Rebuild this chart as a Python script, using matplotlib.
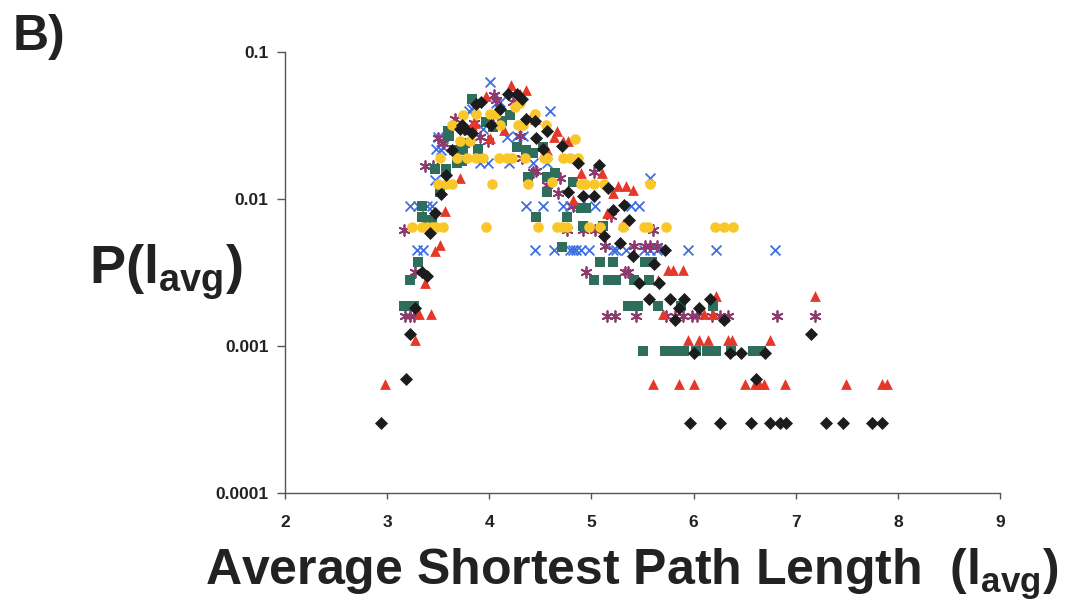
import matplotlib
matplotlib.use("Agg")
import matplotlib.pyplot as plt
from matplotlib.ticker import FixedLocator, FixedFormatter, NullLocator

plt.rcParams['font.family'] = ['Liberation Sans', 'DejaVu Sans']
plt.rcParams['font.weight'] = 'bold'
plt.rcParams['mathtext.fontset'] = 'custom'
plt.rcParams['mathtext.rm'] = 'Liberation Sans:bold'
plt.rcParams['mathtext.it'] = 'Liberation Sans:bold'
plt.rcParams['mathtext.bf'] = 'Liberation Sans:bold'

# --- data (x = l_avg, y = P(l_avg)) ---
black_x = [4.18, 4.27, 4.32, 3.92, 3.87, 4.10, 4.36, 4.45, 3.73, 3.76, 4.02, 4.56, 4.46,
           4.71, 4.53, 4.87, 5.07, 3.58, 3.53, 4.77, 4.92, 5.02, 5.16, 5.32, 5.21, 5.37,
           3.47, 3.42, 5.12, 5.28, 5.41, 5.72, 5.61, 3.34, 3.39, 5.47, 5.66, 5.56, 5.77,
           5.91, 6.16, 3.27, 5.86, 6.05, 5.82, 6.30, 3.22, 7.15, 6.00, 6.36, 6.46, 6.70,
           3.18, 6.61, 2.94, 5.96, 6.26, 6.56, 6.75, 6.85, 6.90, 7.30, 7.46, 7.75, 7.84,
           3.63, 3.83, 3.71]
black_y = [0.052, 0.052, 0.048, 0.046, 0.044, 0.041, 0.035, 0.034, 0.032, 0.030, 0.032, 0.029, 0.026,
           0.023, 0.022, 0.0175, 0.017, 0.0146, 0.0108, 0.0112, 0.0105, 0.0105, 0.0119, 0.0091, 0.0084, 0.0072,
           0.0080, 0.0059, 0.0056, 0.0050, 0.0041, 0.0045, 0.0036, 0.0032, 0.0030, 0.0027, 0.0027, 0.0021, 0.0021,
           0.0021, 0.0021, 0.0018, 0.0018, 0.0018, 0.0015, 0.0015, 0.0012, 0.0012, 0.0009, 0.0009, 0.0009, 0.0009,
           0.0006, 0.0006, 0.0003, 0.0003, 0.0003, 0.0003, 0.0003, 0.0003, 0.0003, 0.0003, 0.0003, 0.0003, 0.0003,
           0.0216, 0.028, 0.030]

red_x = [4.21, 3.97, 4.36, 4.30, 3.83, 4.01, 4.14, 4.45, 4.42, 4.66, 4.72, 4.77, 4.63, 4.56,
         3.71, 3.57, 4.90, 5.10, 5.21, 5.26, 5.34, 5.41, 5.15, 4.82, 5.31, 3.52, 3.47, 5.75,
         5.80, 5.90, 3.37, 5.65, 6.22, 7.19, 3.31, 3.43, 5.70, 6.10, 6.19, 3.27, 5.95, 6.05,
         6.14, 6.34, 6.38, 6.75, 2.98, 5.60, 5.86, 6.00, 6.50, 6.60, 6.64, 6.69, 6.89, 7.49,
         7.84, 7.89, 3.86]
red_y = [0.060, 0.050, 0.055, 0.052, 0.032, 0.026, 0.0295, 0.035, 0.037, 0.029, 0.025, 0.025, 0.0265, 0.0216,
         0.0138, 0.0083, 0.015, 0.015, 0.011, 0.0123, 0.0123, 0.0115, 0.0080, 0.0099, 0.0068, 0.0049, 0.0044, 0.0033,
         0.0033, 0.0033, 0.0027, 0.0028, 0.0022, 0.0022, 0.00165, 0.00165, 0.00165, 0.00165, 0.00165, 0.0011, 0.0011, 0.0011,
         0.0011, 0.0011, 0.0011, 0.0011, 0.00055, 0.00055, 0.00055, 0.00055, 0.00055, 0.00055, 0.00055, 0.00055, 0.00055, 0.00055,
         0.00055, 0.00055, 0.033]

green_x = [3.83, 4.20, 3.97, 4.04, 4.12, 3.61, 3.76, 3.65, 3.89, 3.73, 3.68, 3.58, 3.47, 4.27,
           4.36, 4.43, 4.53, 4.38, 4.56, 4.64, 4.82, 4.46, 4.76, 4.90, 4.95, 3.34, 3.39, 3.44,
           3.52, 3.34, 4.56, 4.82, 4.92, 5.11, 4.71, 3.30, 5.08, 5.21, 5.52, 5.59, 3.22, 5.02,
           5.16, 5.24, 5.42, 5.56, 3.16, 3.21, 3.26, 5.36, 5.46, 5.65, 5.88, 6.19, 5.50, 5.72,
           5.82, 5.91, 6.02, 6.13, 6.22, 6.37, 6.58, 6.66, 3.60, 3.74]
green_y = [0.048, 0.037, 0.0335, 0.031, 0.034, 0.027, 0.024, 0.0216, 0.022, 0.018, 0.0175, 0.016, 0.016, 0.0227,
           0.0216, 0.0206, 0.0227, 0.0142, 0.0142, 0.015, 0.013, 0.0076, 0.0076, 0.0087, 0.0087, 0.0076, 0.0072, 0.0070,
           0.0112, 0.0089, 0.0112, 0.0130, 0.0066, 0.0066, 0.0047, 0.0037, 0.0037, 0.0037, 0.0037, 0.0037, 0.0028, 0.0028,
           0.0028, 0.0028, 0.0028, 0.0028, 0.00186, 0.00186, 0.00186, 0.00186, 0.00186, 0.00186, 0.00186, 0.00186, 0.00093, 0.00093,
           0.00093, 0.00093, 0.00093, 0.00093, 0.00093, 0.00093, 0.00093, 0.00093, 0.029, 0.0216]

blue_x = [4.01, 4.59, 3.83, 3.50, 3.55, 3.48, 3.94, 4.07, 4.10, 4.17, 4.27, 4.33, 3.91, 3.99,
          4.19, 4.43, 4.56, 3.47, 5.57, 3.22, 3.30, 3.39, 3.44, 4.36, 4.53, 4.72, 4.79, 4.89,
          5.03, 5.39, 5.47, 3.29, 3.35, 4.45, 4.63, 4.79, 4.82, 4.85, 4.90, 4.98, 5.21, 5.24,
          5.34, 5.51, 5.57, 5.64, 5.95, 6.22, 6.80, 3.80, 3.53]
blue_y = [0.063, 0.040, 0.041, 0.0265, 0.0227, 0.022, 0.030, 0.045, 0.046, 0.0266, 0.027, 0.027, 0.0175, 0.0175,
          0.0175, 0.0175, 0.0175, 0.0134, 0.0138, 0.0089, 0.0089, 0.0089, 0.0089, 0.0089, 0.0089, 0.0089, 0.0089, 0.0089,
          0.0089, 0.0089, 0.0089, 0.0045, 0.0045, 0.0045, 0.0045, 0.0045, 0.0045, 0.0045, 0.0045, 0.0045, 0.0045, 0.0045,
          0.0045, 0.0045, 0.0045, 0.0045, 0.0045, 0.0045, 0.0045, 0.040, 0.0216]

purple_x = [4.05, 4.07, 4.23, 3.66, 3.50, 3.55, 3.91, 3.99, 4.04, 4.30, 4.32, 3.37, 3.45, 4.46,
            4.43, 4.69, 4.56, 4.67, 5.02, 4.82, 5.19, 3.16, 4.76, 4.92, 5.03, 5.60, 5.13, 5.42,
            5.52, 5.57, 5.64, 3.27, 4.95, 5.33, 5.36, 3.17, 3.22, 3.26, 5.15, 5.23, 5.44, 5.73,
            5.82, 5.90, 5.98, 6.03, 6.18, 6.26, 6.34, 6.82, 7.19, 3.85, 3.75]
purple_y = [0.051, 0.047, 0.046, 0.035, 0.026, 0.024, 0.0265, 0.025, 0.032, 0.027, 0.019, 0.0168, 0.0168, 0.0155,
            0.0153, 0.0138, 0.0124, 0.0109, 0.0153, 0.0089, 0.0077, 0.0062, 0.0062, 0.0062, 0.0062, 0.0062, 0.0048, 0.0048,
            0.0048, 0.0048, 0.0048, 0.0032, 0.0032, 0.0032, 0.0032, 0.0016, 0.0016, 0.0016, 0.0016, 0.0016, 0.0016, 0.0016,
            0.0016, 0.0016, 0.0016, 0.0016, 0.0016, 0.0016, 0.0016, 0.0016, 0.0016, 0.033, 0.030]

yellow_x = [4.30, 4.25, 4.01, 4.07, 3.87, 3.74, 3.63, 3.71, 3.81, 4.28, 4.33, 4.45, 4.55, 4.10,
            4.84, 3.52, 3.68, 3.78, 3.87, 3.94, 4.09, 4.17, 4.22, 4.35, 4.54, 4.56, 4.72, 4.79,
            4.87, 3.50, 3.58, 3.63, 4.03, 4.38, 4.61, 4.90, 4.94, 5.02, 5.12, 5.57, 3.24, 3.34,
            3.39, 3.44, 3.48, 3.55, 3.97, 4.48, 4.66, 4.71, 4.76, 4.98, 5.08, 5.31, 5.51, 5.55,
            5.73, 6.21, 6.30, 6.39]
yellow_y = [0.045, 0.0425, 0.038, 0.038, 0.038, 0.037, 0.032, 0.025, 0.025, 0.032, 0.032, 0.038, 0.032, 0.032,
            0.0255, 0.019, 0.019, 0.019, 0.019, 0.019, 0.019, 0.019, 0.019, 0.019, 0.019, 0.019, 0.019, 0.019,
            0.019, 0.0127, 0.0127, 0.0127, 0.0127, 0.0127, 0.0131, 0.0127, 0.0127, 0.0127, 0.0127, 0.0127, 0.0064, 0.0064,
            0.0064, 0.0064, 0.0064, 0.0064, 0.0064, 0.0064, 0.0064, 0.0064, 0.0064, 0.0064, 0.0064, 0.0064, 0.0064, 0.0064,
            0.0064, 0.0064, 0.0064, 0.0064]

x_ticks = [2, 3, 4, 5, 6, 7, 8, 9]
y_ticks = [0.0001, 0.001, 0.01, 0.1]
y_tick_labels = ["0.0001", "0.001", "0.01", "0.1"]

fig = plt.figure(figsize=(10.7, 6.02), dpi=100)
ax = fig.add_axes([0.2664, 0.1811, 0.6682, 0.7325])

ax.scatter(blue_x, blue_y, marker='x', s=50, color='#3d6fe3', linewidths=1.3, zorder=2)
ax.scatter(purple_x, purple_y, marker=(6, 2, 0), s=60, color='#8d3a6e', linewidths=1.3, zorder=3)
ax.scatter(green_x, green_y, marker='s', s=50, color='#2f6e5d', linewidths=0, zorder=4)
ax.scatter(red_x, red_y, marker='^', s=60, color='#e5372a', linewidths=0, zorder=5)
ax.scatter(yellow_x, yellow_y, marker='o', s=58, color='#f9c72a', linewidths=0, zorder=6)
ax.scatter(black_x, black_y, marker='D', s=44, color='#1c1c1c', linewidths=0, zorder=7)

ax.set_yscale('log')
ax.set_xlim(2, 9)
ax.set_ylim(0.0001, 0.1)
ax.yaxis.set_major_locator(FixedLocator(y_ticks))
ax.yaxis.set_major_formatter(FixedFormatter(y_tick_labels))
ax.yaxis.set_minor_locator(NullLocator())
ax.set_xticks(x_ticks)

for side in ['top', 'right']:
    ax.spines[side].set_visible(False)
for side in ['left', 'bottom']:
    ax.spines[side].set_color('#555555')
    ax.spines[side].set_linewidth(1.0)

tick_font = ['Liberation Sans Narrow', 'Liberation Sans']
ax.tick_params(axis='y', direction='out', length=6, width=1, color='#555555', pad=6)
ax.tick_params(axis='x', direction='out', length=4, width=1, color='#555555', pad=12)
for lab in ax.get_xticklabels() + ax.get_yticklabels():
    lab.set_family(tick_font)
    lab.set_fontsize(12.5)
    lab.set_fontweight('bold')
    lab.set_color('#222222')

fig.text(0.012, 0.977, "B)", fontsize=36, fontweight='bold', ha='left', va='top', color='#222222')
fig.text(0.155, 0.548, r"P(l$_{\mathrm{avg}}$)", fontsize=39, fontweight='bold',
         ha='center', va='center', color='#222222')
fig.text(0.59, 0.028, r"Average Shortest Path Length  (l$_{\mathrm{avg}}$)", fontsize=36,
         fontweight='bold', ha='center', va='baseline', color='#222222')

fig.savefig("out.png", dpi=100)
